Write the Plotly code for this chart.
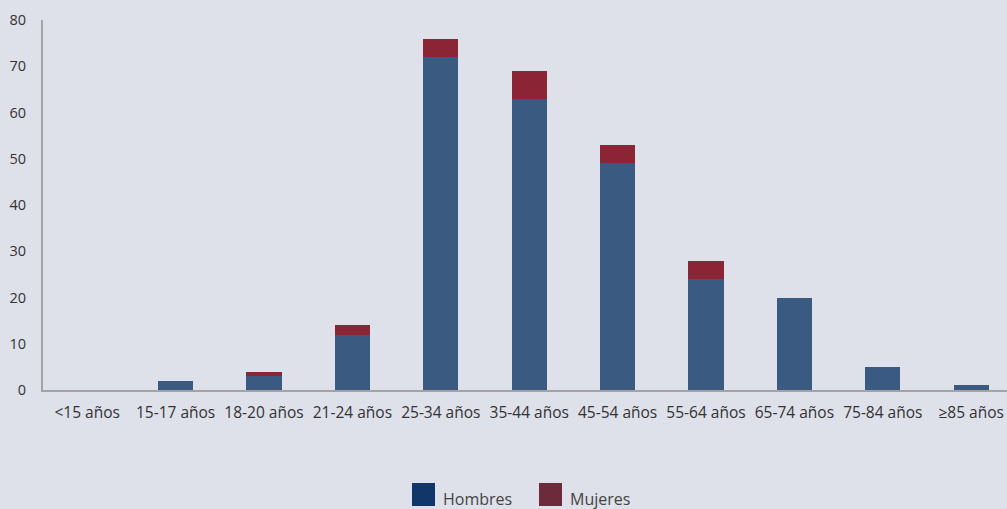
import plotly.graph_objects as go

categorias = ["<15 años", "15-17 años", "18-20 años", "21-24 años", "25-34 años",
              "35-44 años", "45-54 años", "55-64 años", "65-74 años", "75-84 años",
              "≥85 años"]
hombres = [0, 2, 3, 12, 72, 63, 49, 24, 20, 5, 1]
mujeres = [0, 0, 1, 2, 4, 6, 4, 4, 0, 0, 0]

color_hombres = "#3a5a82"
color_mujeres = "#8b2535"
leyenda = [("Hombres", "#11366a"), ("Mujeres", "#6c2a3a")]

fondo = "#dee0ea"
fuente = "'Open Sans', 'Noto Sans', sans-serif"

fig = go.Figure()
fig.add_trace(go.Bar(x=categorias, y=hombres, name="Hombres",
                     marker=dict(color=color_hombres, line=dict(width=0)),
                     showlegend=False))
fig.add_trace(go.Bar(x=categorias, y=mujeres, name="Mujeres",
                     marker=dict(color=color_mujeres, line=dict(width=0)),
                     showlegend=False))

# Leyenda dibujada a mano con cuadros grandes
shapes = []
annotations = []
pos_x = [412, 539]
for (nombre, col), x0 in zip(leyenda, pos_x):
    shapes.append(dict(type="rect", xref="paper", yref="paper",
                       x0=(x0 - 43) / 964, x1=(x0 + 23 - 43) / 964,
                       y0=(390 - 506) / 370, y1=(390 - 483) / 370,
                       fillcolor=col, line=dict(width=0)))
    annotations.append(dict(text=nombre, xref="paper", yref="paper",
                            x=(x0 + 29 - 43) / 964, y=(390 - 512) / 370,
                            xanchor="left", yanchor="bottom", showarrow=False,
                            font=dict(family=fuente, size=16, color="#444444")))

fig.update_layout(
    barmode="stack",
    bargap=0.6,
    width=1007, height=509,
    margin=dict(l=43, r=0, t=20, b=119),
    paper_bgcolor=fondo, plot_bgcolor=fondo,
    font=dict(family=fuente, size=14, color="#333333"),
    shapes=shapes,
    annotations=annotations,
    xaxis=dict(type="category", range=[-0.5, 10.405], showgrid=False,
               showline=True, linecolor="#a3a3a3", linewidth=2,
               ticks="", ticklabelstandoff=7, tickfont=dict(size=15.5, color="#333333")),
    yaxis=dict(range=[0, 80], dtick=10, showgrid=False, zeroline=False,
               showline=True, linecolor="#a3a3a3", linewidth=2,
               ticks="", ticklabelstandoff=12, tickfont=dict(size=14.5, color="#333333")),
)

fig.write_html("out.html")
